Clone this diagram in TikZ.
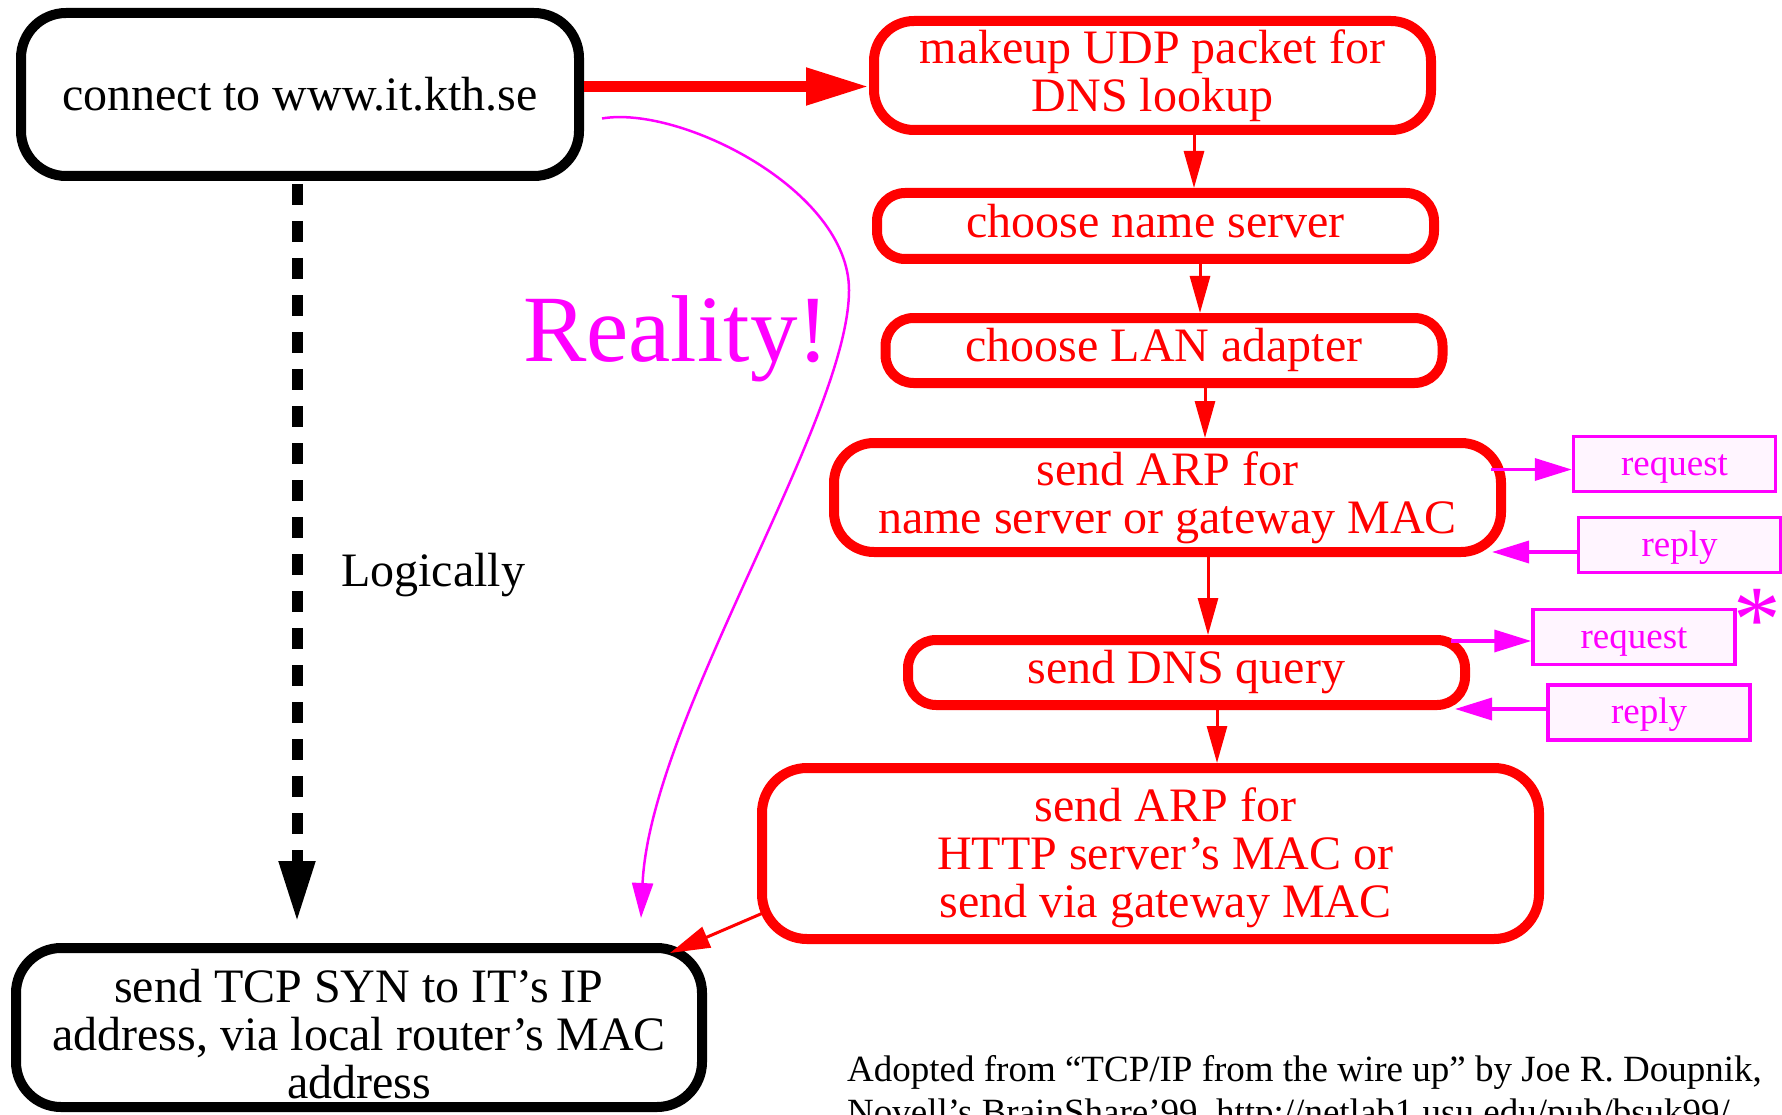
\documentclass[tikz,border=0pt]{standalone}
\usepackage{fontspec}
\setmainfont{Liberation Serif}
\usetikzlibrary{arrows.meta,calc}
\definecolor{myred}{RGB}{255,0,0}
\definecolor{mymag}{RGB}{255,0,255}
\definecolor{mypink}{RGB}{255,245,255}
\begin{document}
\begin{tikzpicture}[x=1pt,y=-1pt,
  bigtxt/.style={font=\fontsize{48}{48}\selectfont},
  blackbox/.style={draw=black, line width=10pt, rounded corners=#1, align=center, inner sep=0pt, bigtxt},
  redbox/.style={draw=myred, text=myred, line width=10pt, rounded corners=#1, align=center, inner sep=0pt, bigtxt},
  thinbox/.style={redbox=28pt, minimum width=557pt, minimum height=65pt, text depth=10.4pt},
  magbox/.style={draw=mymag, fill=mypink, text=mymag, line width=3.5pt, minimum width=202pt, minimum height=55pt, inner sep=0pt, font=\fontsize{37}{37}\selectfont, text height=30pt, text depth=8pt},
  redarrow/.style={draw=myred, line width=3pt, -{Triangle[length=37pt,width=20pt]}},
  magarrow/.style={draw=mymag, line width=3.5pt, -{Triangle[length=37pt,width=22pt]}},
]
\useasboundingbox (0,0) rectangle (1782,1115);

% boxes
\node[blackbox=45pt, minimum width=558pt, minimum height=163pt] (connect) at (300,94.5) {connect to www.it.kth.se};
\node[redbox=40pt, minimum width=557pt, minimum height=109pt] (makeup) at (1152.5,75.5) {makeup UDP packet for\\DNS lookup};
\node[thinbox, minimum height=66pt] (cns) at (1155.5,226) {choose name server};
\node[thinbox] (lan) at (1164,350.5) {choose LAN adapter};
\node[redbox=40pt, minimum width=667pt, minimum height=109pt] (arp) at (1167.5,497.5) {send ARP for\\name server or gateway MAC};
\node[thinbox] (dns) at (1186.5,672.5) {send DNS query};
\node[redbox=45pt, minimum width=777pt, minimum height=171pt, text height=139pt] (http) at (1150.5,853.5) {\hspace*{30pt}send ARP for\\\hspace*{30pt}HTTP server’s MAC or\\\hspace*{30pt}send via gateway MAC};
\node[blackbox=45pt, minimum width=686pt, minimum height=159pt, text height=143pt] (tcp) at (359,1027.5) {send TCP SYN to IT’s IP\\address, via local router’s MAC\\address};

\node[magbox] (req1) at (1674.5,464) {request};
\node[magbox] (rep1) at (1679.5,545) {reply};
\node[magbox] (req2) at (1634,637) {request};
\node[magbox] (rep2) at (1649,712.5) {reply};

% labels
\node[text=mymag, font=\fontsize{95}{95}\selectfont, inner sep=0pt] (ast) at (1757,620) {*};
\node[text=mymag, font=\fontsize{95}{95}\selectfont, anchor=base west, inner sep=0pt] (real) at (523,361) {Reality!};
\node[bigtxt, anchor=base west, inner sep=0pt] (logic) at (341,586) {Logically};
\node[font=\fontsize{37}{37}\selectfont, anchor=base west, inner sep=0pt] (foot1) at (847,1081) {Adopted from “TCP/IP from the wire up” by Joe R. Doupnik,};
\node[font=\fontsize{37}{37}\selectfont, anchor=base west, inner sep=0pt] (foot2) at (847,1124) {Novell’s BrainShare’99, http://netlab1.usu.edu/pub/bsuk99/};

% connectors
\draw[myred, line width=11pt, -{Triangle[length=63pt,width=35pt]}] ($(connect.east)+(0,-8)$) -- ($(makeup.west)+(0,11)$);

\coordinate (c1) at (1194,0);
\coordinate (c2) at (1200,0);
\coordinate (c3) at (1205,0);
\coordinate (c4) at (1208,0);
\coordinate (c5) at (1217,0);
\draw[redarrow] (makeup.south -| c1) -- (cns.north -| c1);
\draw[redarrow] (cns.south -| c2) -- (lan.north -| c2);
\draw[redarrow] (lan.south -| c3) -- (arp.north -| c3);
\draw[redarrow] (arp.south -| c4) -- (dns.north -| c4);
\draw[redarrow] (dns.south -| c5) -- (http.north -| c5);
\draw[draw=myred, line width=3pt, -{Triangle[length=40pt,width=22pt]}] ($(http.south west)+(6,-31)$) -- ($(tcp.north east)+(-37,10)$);

\coordinate (q1) at ($(arp.east)+(-15,-28)$);
\coordinate (p1) at ($(arp.east)+(-14,54.5)$);
\coordinate (q2) at ($(dns.east)+(-19,-31.5)$);
\coordinate (p2) at ($(dns.east)+(-15,36.5)$);
\draw[magarrow] (q1) -- (q1 -| req1.west);
\draw[magarrow] (p1 -| rep1.west) -- (p1);
\draw[magarrow] (q2) -- (q2 -| req2.west);
\draw[magarrow] (p2 -| rep2.west) -- (p2);

\coordinate (dtip) at (297,922);
\draw[black, line width=11pt, dash pattern=on 21pt off 16pt, -{Triangle[length=61pt,width=34pt]}] ($(connect.south)+(-3,3)$) -- (dtip);

\draw[mymag, line width=2.5pt, -{Triangle[length=35pt,width=21pt]}] ($(connect.east)+(18,24)$) .. controls (680,105) and (849,190) .. (849,290) .. controls (849,420) and (650,720) .. ($(tcp.north east)+(-66,-25)$);
\end{tikzpicture}
\end{document}
